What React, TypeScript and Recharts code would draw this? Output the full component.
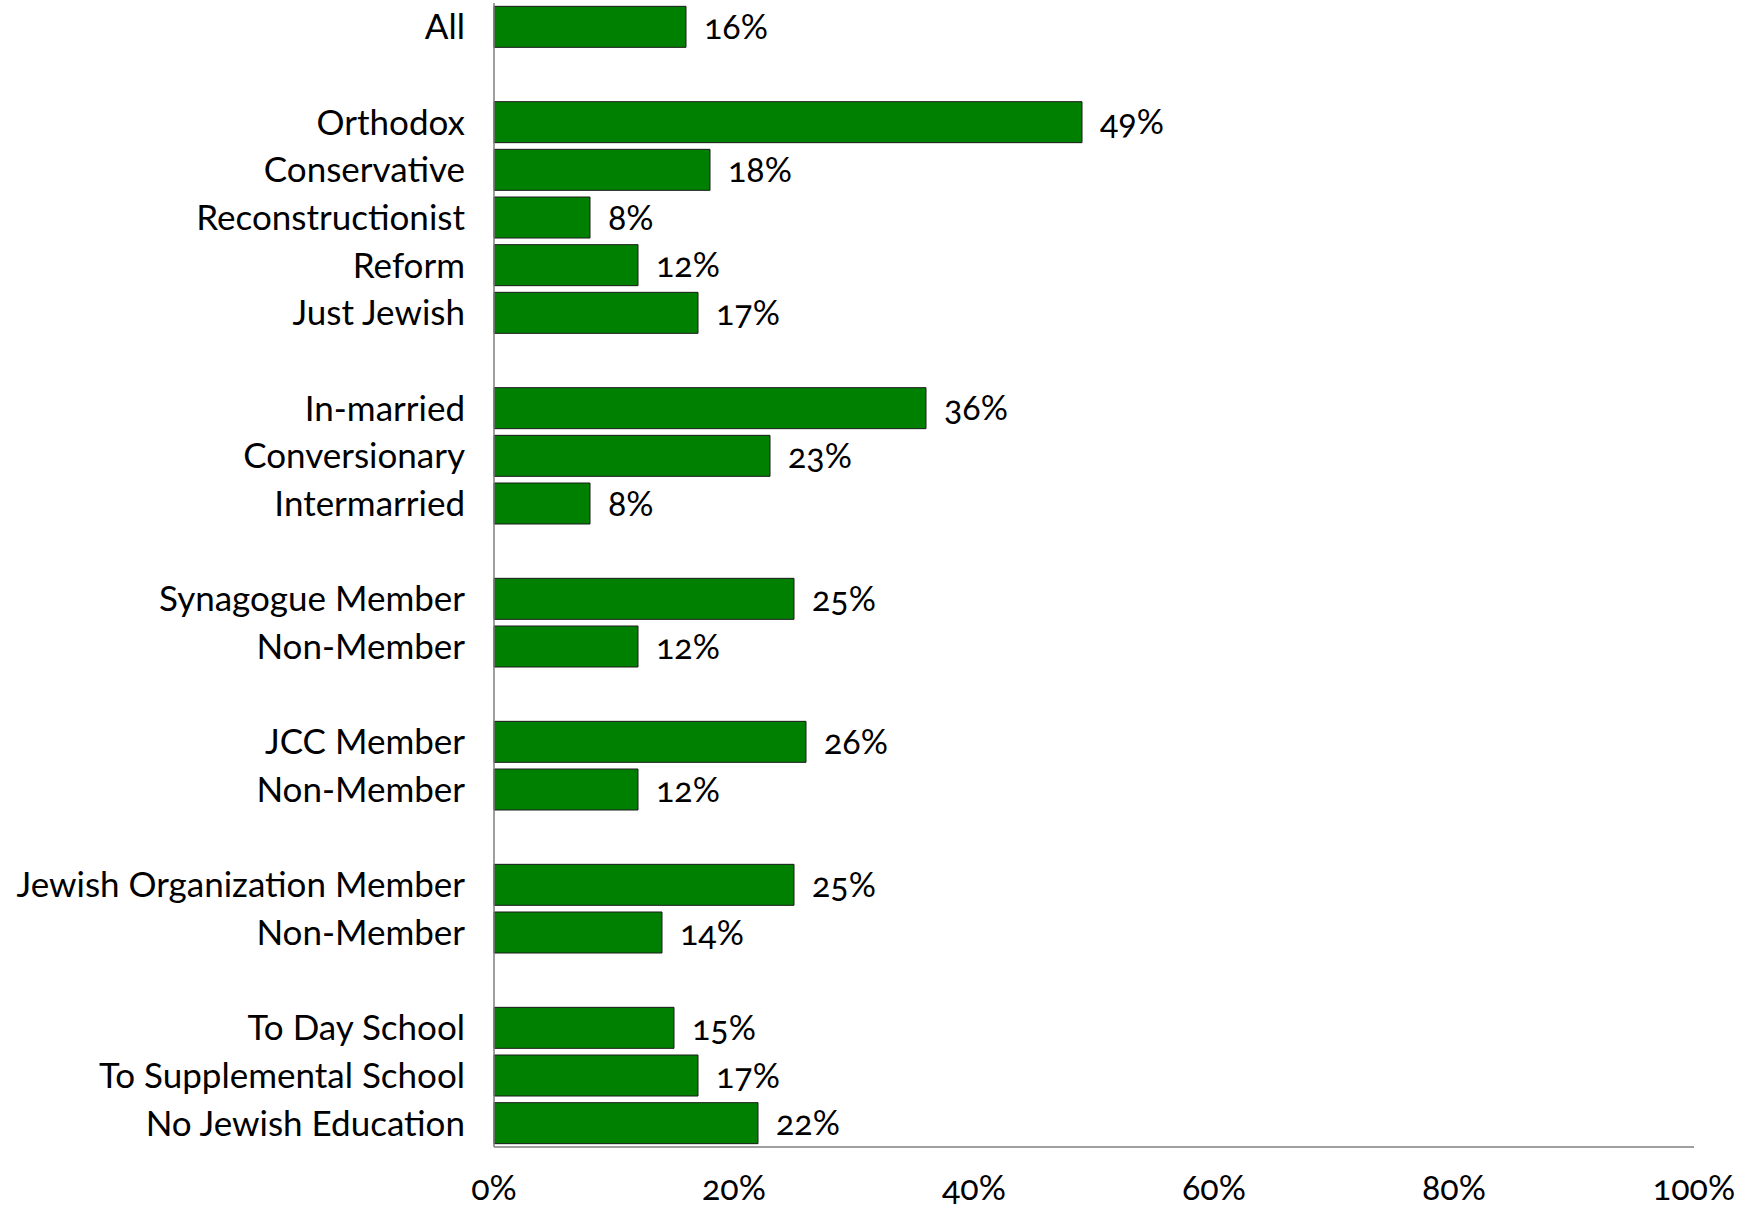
import React from 'react';
import { BarChart, Bar, XAxis, YAxis, LabelList } from 'recharts';

const categories: string[] = [
  'All', '',
  'Orthodox', 'Conservative', 'Reconstructionist', 'Reform', 'Just Jewish', '',
  'In-married', 'Conversionary', 'Intermarried', '',
  'Synagogue Member', 'Non-Member', '',
  'JCC Member', 'Non-Member', '',
  'Jewish Organization Member', 'Non-Member', '',
  'To Day School', 'To Supplemental School', 'No Jewish Education',
];

const values: (number | null)[] = [
  16, null,
  49, 18, 8, 12, 17, null,
  36, 23, 8, null,
  25, 12, null,
  26, 12, null,
  25, 14, null,
  15, 17, 22,
];

const xTicks: number[] = [0, 20, 40, 60, 80, 100];

const data = categories.map((name, i) => ({ id: i, name, value: values[i] }));

const FONT = 'Lato, "Open Sans", sans-serif';
const numStyle = { fontVariantNumeric: 'oldstyle-nums', fontFeatureSettings: '"onum" 1' } as any;

export default function App() {
  return (
    <div style={{ position: 'absolute', left: 0, top: 0, width: 1748, height: 1208, background: '#fff' }}>
      <BarChart
        width={1748}
        height={1208}
        data={data}
        layout="vertical"
        margin={{ top: 3, right: 54, bottom: 0, left: 0 }}
        barCategoryGap="7%"
      >
        <XAxis
          type="number"
          domain={[0, 100]}
          ticks={xTicks}
          tickFormatter={(v: number) => `${v}%`}
          tickLine={false}
          tickSize={0}
          tickMargin={29}
          height={61}
          axisLine={{ stroke: '#7f7f7f', strokeWidth: 1.5 }}
          tick={{ fill: '#000', fontSize: 34, fontFamily: FONT, style: numStyle }}
          interval={0}
        />
        <YAxis
          type="category"
          dataKey="id"
          width={494}
          tickLine={false}
          tickSize={0}
          tickMargin={29}
          interval={0}
          tickFormatter={(v: number) => categories[v]}
          axisLine={{ stroke: '#7f7f7f', strokeWidth: 1.5 }}
          tick={{ fill: '#000', fontSize: 35, fontFamily: FONT }}
        />
        <Bar dataKey="value" fill="#008000" stroke="#1a1a1a" strokeWidth={1} isAnimationActive={false}>
          <LabelList
            dataKey="value"
            position="right"
            offset={18}
            formatter={(v: any) => (v === null || v === undefined ? '' : `${v}%`)}
            style={{ fill: '#000', fontSize: 34, fontFamily: FONT, ...numStyle }}
          />
        </Bar>
      </BarChart>
    </div>
  );
}
